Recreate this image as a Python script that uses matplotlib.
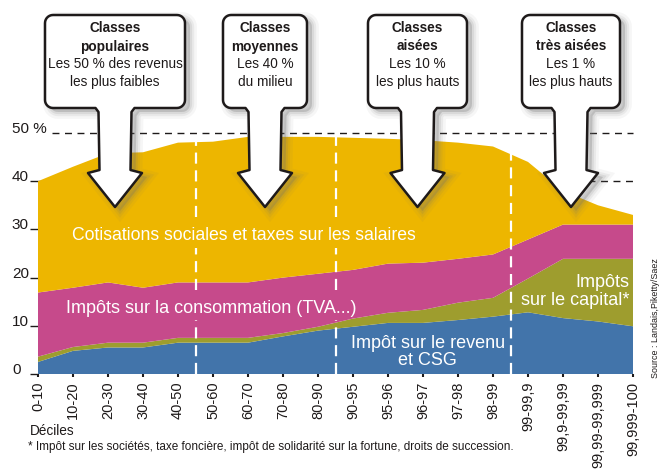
import numpy as np
import matplotlib
matplotlib.use('Agg')
import matplotlib.pyplot as plt
from matplotlib.patches import Polygon

plt.rcParams['font.family'] = ['Liberation Sans', 'DejaVu Sans']

# Deciles / fractiles of income
categories = ['0-10', '10-20', '20-30', '30-40', '40-50', '50-60', '60-70', '70-80',
              '80-90', '90-95', '95-96', '96-97', '97-98', '98-99', '99-99,9',
              '99,9-99,99', '99,99-99,999', '99,999-100']

# Tax rate (% of income), one layer per kind of tax, stacked bottom to top
revenu = [2.5, 4.8, 5.5, 5.5, 6.5, 6.5, 6.5, 7.8, 9.0, 9.8, 10.6, 10.6, 11.2, 11.9, 12.8, 11.6, 10.9, 9.9]
capital = [1.1, 0.8, 1.0, 1.0, 1.0, 1.0, 1.0, 0.7, 0.8, 1.7, 2.1, 2.7, 3.6, 3.9, 7.0, 12.3, 13.0, 14.0]
consommation = [13.3, 12.3, 12.5, 11.4, 11.5, 11.5, 11.5, 11.5, 11.0, 10.1, 10.2, 9.8, 9.1, 9.0, 8.1, 7.1, 7.1, 7.1]
cotisations = [23.1, 25.1, 26.8, 28.1, 29.0, 29.2, 30.2, 29.2, 28.4, 27.4, 25.9, 25.4, 24.1, 22.4, 16.1, 7.0, 4.0, 2.0]

yticks = [0, 10, 20, 30, 40, 50]
ytick_labels = ['0', '10', '20', '30', '40', '50 %']

# group borders (between deciles), class callouts
group_borders = [4.5, 8.5, 13.5]
classes = [
    ('Classes', 'populaires', 'Les 50 % des revenus', 'les plus faibles'),
    ('Classes', 'moyennes', 'Les 40 %', 'du milieu'),
    ('Classes', 'aisées', 'Les 10 %', 'les plus hauts'),
    ('Classes', 'très aisées', 'Les 1 %', 'les plus hauts'),
]

YELLOW = '#EDB600'
PINK = '#C64A8B'
OLIVE = '#9E9D2E'
BLUE = '#4274AA'
INK = '#1E1A1A'

# white border lines leave room for the two long labels
LABEL_GAPS = [(11.2, 17.4), (26.1, 32.6)]


def rounded_callout(x0, x1, y0, y1, cx, stem_w, head_w, r=8):
    """Outline of a rounded box with a down arrow (pixel coords, y down)."""
    def arc(ccx, ccy, a0, a1):
        a = np.radians(np.linspace(a0, a1, 8))
        return list(zip(ccx + r * np.cos(a), ccy + r * np.sin(a)))
    pts = []
    pts += arc(x0 + r, y0 + r, 180, 270)
    pts += arc(x1 - r, y0 + r, 270, 360)
    pts += arc(x1 - r, y1 - r, 0, 90)
    s0, s1 = cx - stem_w / 2, cx + stem_w / 2
    pts += [(s1 + 3, y1), (s1, y1 + 4), (s1 - 1, 170),
            (cx + head_w / 2, 173), (cx, 207), (cx - head_w / 2, 173),
            (s0 + 1, 170), (s0, y1 + 4), (s0 - 3, y1)]
    pts += arc(x0 + r, y1 - r, 90, 180)
    return pts


def draw_callouts(ov):
    boxes = [(45, 185), (223, 307), (368, 467), (522, 620)]
    for (x0, x1), lines in zip(boxes, classes):
        cx = (x0 + x1) / 2
        pts = rounded_callout(x0, x1, 15, 108, cx, 33, 54)
        # soft drop shadow
        for lw, al in [(10, 0.06), (6, 0.09), (3, 0.13)]:
            sh = np.array(pts) + [5, 4]
            ov.add_patch(Polygon(sh, closed=True, facecolor='#707070', alpha=al,
                                 edgecolor='#707070', lw=lw, zorder=5))
        ov.add_patch(Polygon(pts, closed=True, facecolor='white', edgecolor=INK,
                             lw=1.8, joinstyle='round', zorder=6))
        ys = [28, 46.5, 64.5, 82]
        for i, (txt, yy) in enumerate(zip(lines, ys)):
            ov.text(cx, yy, txt, ha='center', va='center', fontsize=9.8,
                    fontweight='bold' if i < 2 else 'normal', color=INK, zorder=7)


def main():
    fig = plt.figure(figsize=(6.7, 4.72), dpi=100)
    ax = fig.add_axes([38 / 670, (472 - 374) / 472, 595 / 670, 241 / 472])
    x = np.arange(len(categories))

    ax.hlines(40, 0, len(categories) - 1, colors=INK, lw=1, linestyles=(0, (5, 4)), zorder=1)
    ax.hlines(50, 0.4, len(categories) - 1, colors=INK, lw=1, linestyles=(0, (5, 4)),
              zorder=1, clip_on=False)
    ax.stackplot(x, revenu, capital, consommation, cotisations,
                 colors=[BLUE, OLIVE, PINK, YELLOW], lw=0, zorder=2)

    top = np.sum([revenu, capital, consommation, cotisations], axis=0)
    for b in group_borders:
        ytop = np.interp(b, x, top)
        if b < 10:
            cuts = [0] + [v for g in LABEL_GAPS for v in g] + [ytop]
        else:
            cuts = [0, ytop]
        for lo, hi in zip(cuts[::2], cuts[1::2]):
            ax.vlines(b, lo, hi, colors='white', lw=1.6, linestyles=(0, (5, 3)), zorder=3)

    # layer labels
    ax.text(5.89, 27.8, 'Cotisations sociales et taxes sur les salaires', color='white',
            fontsize=12.7, ha='center', va='baseline', zorder=4)
    ax.text(0.8, 12.65, 'Impôts sur la consommation (TVA...)', color='white',
            fontsize=13, ha='left', va='baseline', zorder=4)
    ax.text(11.14, 5.4, 'Impôt sur le revenu', color='white', fontsize=13,
            ha='center', va='baseline', zorder=4)
    ax.text(11.14, 1.9, 'et CSG', color='white', fontsize=13,
            ha='center', va='baseline', zorder=4)
    ax.text(16.91, 18.05, 'Impôts', color='white', fontsize=13,
            ha='right', va='baseline', zorder=4)
    ax.text(16.91, 14.3, 'sur le capital*', color='white', fontsize=13,
            ha='right', va='baseline', zorder=4)

    ax.set_xlim(0, len(categories) - 1)
    ax.set_ylim(0, 50)
    for s in ax.spines.values():
        s.set_visible(False)

    ax.set_xticks(x)
    ax.set_xticklabels(categories, rotation=90, fontsize=10.5, color=INK)
    ax.tick_params(axis='x', direction='out', length=2.5, width=1.5, color=INK, pad=3)

    ax.set_yticks(yticks)
    ax.set_yticklabels(ytick_labels, fontsize=11, color=INK)
    ax.tick_params(axis='y', direction='out', length=5.8, width=1, color=INK, pad=13)
    for lab in ax.get_yticklabels():
        lab.set_ha('left')
        lab.set_va('baseline')
    ax.yaxis.get_major_ticks()[-1].tick1line.set_visible(False)

    # overlay in pixel coordinates for callouts and notes
    ov = fig.add_axes([0, 0, 1, 1], zorder=10)
    ov.set_xlim(0, 670)
    ov.set_ylim(472, 0)
    ov.axis('off')
    draw_callouts(ov)

    ov.text(30, 435, 'Déciles', fontsize=9.8, color=INK, ha='left', va='baseline')
    ov.text(28, 450, '* Impôt sur les sociétés, taxe foncière, impôt de solidarité sur la '
            'fortune, droits de succession.', fontsize=8.5, color=INK, ha='left', va='baseline')
    ov.text(655, 378, 'Source : Landais,Piketty/Saez', fontsize=6.4, color=INK,
            rotation=90, ha='center', va='bottom')

    fig.savefig('out.png', dpi=100)


if __name__ == '__main__':
    main()
